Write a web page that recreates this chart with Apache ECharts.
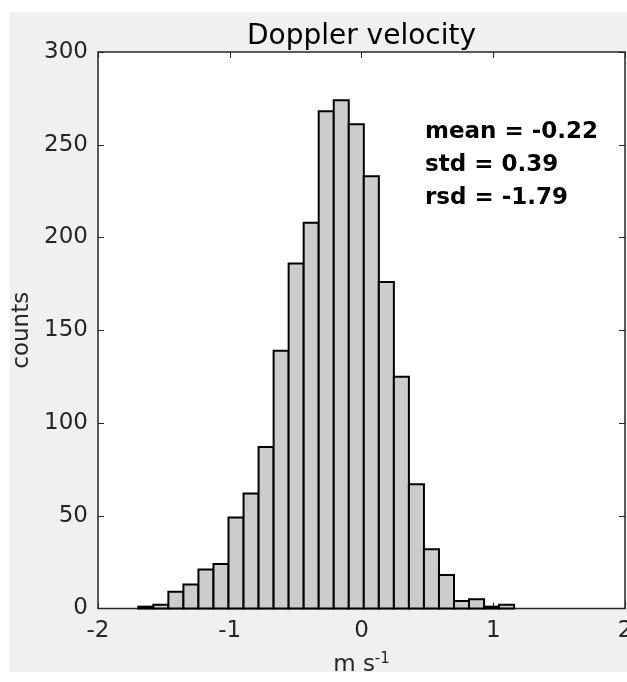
<!DOCTYPE html>
<html><head><meta charset="utf-8">
<script src="https://cdn.jsdelivr.net/npm/echarts@6/dist/echarts.min.js"></script>
<style>html,body{margin:0;padding:0;background:#fff;overflow:hidden;}#c{width:627px;height:682px;}</style>
</head><body><div id="c"></div>
<script>
// Histogram of Doppler velocity (m s^-1)
const binStart = -1.694;   // left edge of first bin
const binWidth = 0.1141;   // bin width
const counts = [1, 2, 9, 13, 21, 24, 49, 62, 87, 139, 186, 208, 268, 274, 261, 233, 176, 125, 67, 32, 18, 4, 5, 1, 2];
const xTicks = [-2, -1, 0, 1, 2];
const yTicks = [0, 50, 100, 150, 200, 250, 300];
const statsLines = ['mean = -0.22', 'std = 0.39', 'rsd = -1.79'];
const titleText = 'Doppler velocity';

const FONT = '"DejaVu Sans", sans-serif';
const AX = '#262626';
const data = counts.map((c, i) => [binStart + i * binWidth, binStart + (i + 1) * binWidth, c]);

const chart = echarts.init(document.getElementById('c'), null, {renderer: 'canvas'});
const axCommon = {
  axisLine: {show: false, onZero: false},
  splitLine: {show: false},
  axisTick: {show: true, inside: true, length: 6, lineStyle: {color: AX, width: 1}}
};
chart.setOption({
  animation: false,
  backgroundColor: '#ffffff',
  grid: {left: 98, right: 2, top: 52, bottom: 73.5, show: true, backgroundColor: '#ffffff',
    borderColor: AX, borderWidth: 1.5, containLabel: false, outerBoundsMode: 'none'},
  xAxis: [
    Object.assign({}, axCommon, {type: 'value', min: xTicks[0], max: xTicks[xTicks.length - 1], interval: 1, position: 'bottom',
      axisLabel: {fontFamily: FONT, fontSize: 23, color: AX, margin: 11},
      name: 'm s{sup|-1}', nameLocation: 'middle', nameGap: 43,
      nameTextStyle: {fontFamily: FONT, fontSize: 23, color: AX, rich: {sup: {fontFamily: FONT, fontSize: 15, color: AX, verticalAlign: 'top', padding: [0, 0, 12, 0]}}}}),
    Object.assign({}, axCommon, {type: 'value', min: xTicks[0], max: xTicks[xTicks.length - 1], interval: 1, position: 'top', axisLabel: {show: false}})
  ],
  yAxis: [
    Object.assign({}, axCommon, {type: 'value', min: yTicks[0], max: yTicks[yTicks.length - 1], interval: 50, position: 'left',
      axisLabel: {fontFamily: FONT, fontSize: 23, color: AX, margin: 10},
      name: 'counts', nameLocation: 'middle', nameGap: 64, nameRotate: 90,
      nameTextStyle: {fontFamily: FONT, fontSize: 23, color: AX}}),
    Object.assign({}, axCommon, {type: 'value', min: yTicks[0], max: yTicks[yTicks.length - 1], interval: 50, position: 'right', axisLabel: {show: false}})
  ],
  graphic: [
    {type: 'rect', z: -10, shape: {x: 10, y: 12, width: 617, height: 660}, style: {fill: '#f0f0f0'}, silent: true},
    {type: 'text', z: 10, x: 361.5, y: 51,
     style: {text: titleText, fontFamily: FONT, fontSize: 28, fill: '#000', align: 'center', verticalAlign: 'bottom'}},
    {type: 'text', z: 10, x: 425, y: 116,
     style: {text: statsLines.join('\n'), fontFamily: FONT, fontSize: 23, fontWeight: 'bold', fill: '#000', lineHeight: 33}}
  ],
  series: [{
    type: 'custom',
    xAxisIndex: 0, yAxisIndex: 0,
    data: data,
    encode: {x: [0, 1], y: 2},
    renderItem: function (params, api) {
      const p0 = api.coord([api.value(0), 0]);
      const p1 = api.coord([api.value(1), api.value(2)]);
      return {type: 'rect', shape: {x: p0[0], y: p1[1], width: p1[0] - p0[0], height: p0[1] - p1[1]},
        style: {fill: '#cccccc', stroke: '#000000', lineWidth: 2}};
    }
  }]
});
</script></body></html>
